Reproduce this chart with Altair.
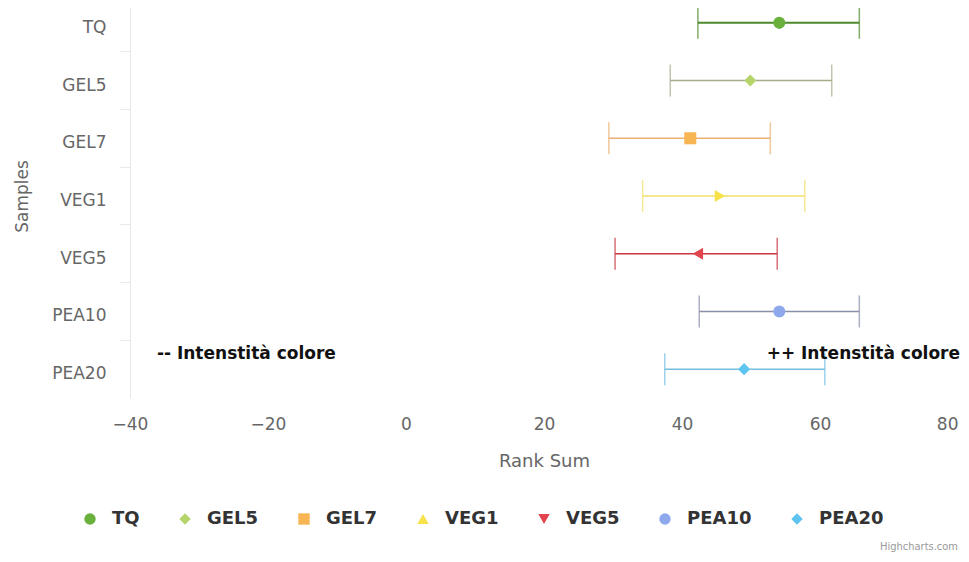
import altair as alt
import pandas as pd

# ---- data ----
samples = ["TQ", "GEL5", "GEL7", "VEG1", "VEG5", "PEA10", "PEA20"]
rank_sum = [54.1, 49.9, 41.2, 45.5, 42.3, 54.1, 49.0]
rank_low = [42.3, 38.3, 29.4, 34.3, 30.3, 42.5, 37.5]
rank_high = [65.7, 61.7, 52.8, 57.8, 53.8, 65.7, 60.7]

marker_colors = ["#6ab03c", "#b5d56a", "#f7b553", "#f7e24a", "#e2454d", "#8ea8ec", "#5ec4f0"]
bar_colors = ["#4d8a2b", "#a3ad8c", "#eab072", "#f2df6a", "#c9353f", "#8a8fa8", "#74bfe0"]
legend_shapes = ["circle", "diamond", "square", "triangle-up", "triangle-down", "circle", "diamond"]
rotated = ["VEG1", "VEG5"]  # drawn turned a quarter, as in the inverted original

x_ticks = [-40, -20, 0, 20, 40, 60, 80]
note_text = ["-- Intenstità colore", "++ Intenstità colore"]
note_x = [-36.1, 80]
note_sample = ["PEA20", "PEA20"]
credit = ["Highcharts.com"]

df = pd.DataFrame({"sample": samples, "rank": rank_sum, "low": rank_low, "high": rank_high})
notes = pd.DataFrame({"text": note_text, "x": note_x, "sample": note_sample})
credits = pd.DataFrame({"text": credit})

FONT = "DejaVu Sans"
PLOT_W, PLOT_H = 828, 390

x_scale = alt.Scale(domain=[-40, 80], nice=False, zero=False)
y_scale = alt.Scale(type="band", domain=samples, range=[-14, 390], paddingInner=0, paddingOuter=0)

x_axis = alt.Axis(
    values=x_ticks, title="Rank Sum", grid=False, domain=False, ticks=False,
    labelFont=FONT, labelFontSize=17, labelColor="#666666", labelPadding=18,
    labelAlign=alt.condition("datum.value == 80", alt.value("right"), alt.value("center")),
    titleFont=FONT, titleFontSize=18, titleFontWeight="normal", titleColor="#666666", titlePadding=20,
)
y_axis = alt.Axis(
    title="Samples", grid=False, domain=True, domainColor="#e8e8e8", domainWidth=1,
    ticks=True, tickColor="#e8e8e8", tickSize=10, bandPosition=0,
    labelFont=FONT, labelFontSize=17, labelColor="#666666", labelPadding=14,
    labelBaseline="middle", labelOffset=5,
    titleFont=FONT, titleFontSize=17, titleFontWeight="normal", titleColor="#666666", titlePadding=20,
)

Y = alt.Y("sample:N", scale=y_scale, axis=y_axis, sort=samples)
Y_plain = alt.Y("sample:N", scale=y_scale, sort=samples)

# error-bar colour scales: listed in reverse order so that Vega-Lite does not
# fold their (hidden) legends into the marker legend
bar_domain = samples[::-1]
bar_range = bar_colors[::-1]
bar_stroke = alt.Stroke("bar_key:N", scale=alt.Scale(domain=bar_domain, range=bar_range), legend=None)
bar_fill = alt.Fill("bar_key:N", scale=alt.Scale(domain=bar_domain, range=bar_range), legend=None)

stems = alt.Chart(df).transform_calculate(bar_key="datum.sample").mark_rule().encode(
    x=alt.X("low:Q", scale=x_scale, axis=x_axis),
    x2="high:Q",
    y=Y,
    stroke=bar_stroke,
    strokeWidth=alt.condition("datum.sample == 'TQ'", alt.value(2), alt.value(1.5)),
)

cap_low = alt.Chart(df).transform_calculate(bar_key="datum.sample").mark_tick(
    orient="vertical", size=32, thickness=1.5
).encode(
    x=alt.X("low:Q", scale=x_scale),
    y=Y_plain,
    fill=bar_fill,
)
cap_high = alt.Chart(df).transform_calculate(bar_key="datum.sample").mark_tick(
    orient="vertical", size=32, thickness=1.5
).encode(
    x=alt.X("high:Q", scale=x_scale),
    y=Y_plain,
    fill=bar_fill,
)

legend = alt.Legend(
    title=None, orient="none", legendX=-49, legendY=502, direction="horizontal",
    columns=7, columnPadding=36, labelOffset=13, symbolSize=130, padding=0,
    symbolStrokeWidth=0,
    labelFont=FONT, labelFontSize=18, labelFontWeight="bold", labelColor="#333333",
)

color_enc = alt.Color("sample:N", scale=alt.Scale(domain=samples, range=marker_colors), legend=legend)
shape_enc = alt.Shape("sample:N", scale=alt.Scale(domain=samples, range=legend_shapes), legend=legend)

rot_test = " || ".join(f"datum.sample == '{s}'" for s in rotated)

points_a = alt.Chart(df).transform_filter(f"!({rot_test})").mark_point(
    filled=True, opacity=1, size=145
).encode(
    x=alt.X("rank:Q", scale=x_scale),
    y=Y_plain,
    color=color_enc,
    shape=shape_enc,
)
points_b = alt.Chart(df).transform_filter(rot_test).mark_point(
    filled=True, opacity=1, size=145, angle=90
).encode(
    x=alt.X("rank:Q", scale=x_scale),
    y=Y_plain,
    color=color_enc,
    shape=shape_enc,
)

note_left = alt.Chart(notes).transform_filter("datum.x < 0").mark_text(
    align="left", baseline="middle", dy=-15, font=FONT, fontSize=17, fontWeight="bold", color="#111111"
).encode(
    x=alt.X("x:Q", scale=x_scale),
    y=Y_plain,
    text="text:N",
)
note_right = alt.Chart(notes).transform_filter("datum.x > 0").mark_text(
    align="right", baseline="middle", dy=-15, dx=2, font=FONT, fontSize=17, fontWeight="bold", color="#111111"
).encode(
    x=alt.X("x:Q", scale=x_scale),
    y=Y_plain,
    text="text:N",
)

credit_text = alt.Chart(credits).mark_text(
    align="right", baseline="middle", font="Liberation Sans Narrow, DejaVu Sans Condensed, sans-serif",
    fontSize=11, color="#999999"
).encode(
    x=alt.value(PLOT_W),
    y=alt.value(539),
    text="text:N",
)

chart = alt.layer(stems, cap_low, cap_high, points_a, points_b, note_left, note_right, credit_text).properties(
    width=PLOT_W,
    height=PLOT_H,
    background="white",
    autosize=alt.AutoSizeParams(type="none"),
    padding={"left": 122, "top": 0, "right": 3, "bottom": 154},
).configure_view(stroke=None)

chart.save("out.html", embed_options={"renderer": "svg", "actions": False})
